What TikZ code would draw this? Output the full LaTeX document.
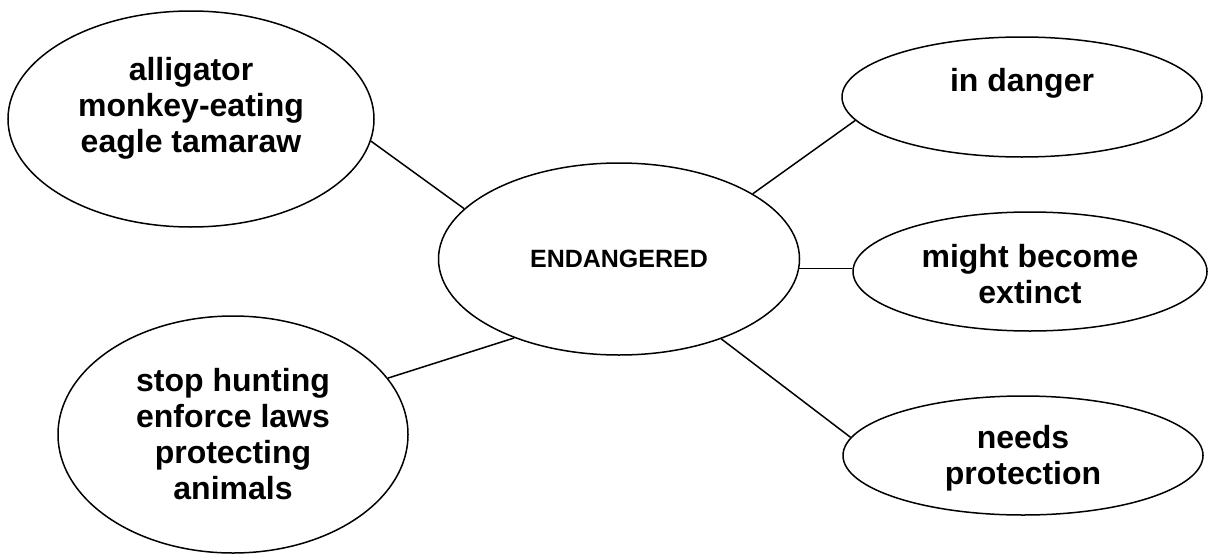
\documentclass[tikz,border=0pt]{standalone}
\usepackage{fontspec}
\setmainfont{Liberation Sans}
\usetikzlibrary{shapes.geometric}

\tikzset{
  bubble/.style={draw, ellipse, line width=1.5pt, inner sep=0pt},
  words/.style={align=center, font=\bfseries\fontsize{32}{36}\selectfont},
  link/.style={line width=1.5pt},
}

\begin{document}
\begin{tikzpicture}[x=1pt, y=-1pt]
    \useasboundingbox (0,0) rectangle (1209,554);

    % centre word
    \node[bubble, minimum width=361pt, minimum height=192pt,
          label={[words, font=\bfseries\fontsize{25}{30}\selectfont]center:ENDANGERED}] (endangered) at (619,259) {};

    % left side
    \node[bubble, minimum width=366pt, minimum height=216pt,
          label={[words, yshift=11pt]center:alligator\\monkey-eating\\eagle tamaraw}] (animals) at (191,119) {};
    \node[bubble, minimum width=350pt, minimum height=237pt,
          label={[words]center:stop hunting\\enforce laws\\protecting\\animals}] (action) at (233,434.5) {};

    % right side
    \node[bubble, minimum width=360pt, minimum height=120pt,
          label={[words, yshift=14pt]center:in danger}] (danger) at (1022,97) {};
    \node[bubble, minimum width=354pt, minimum height=119pt,
          label={[words, yshift=-3pt]center:might become\\extinct}] (extinct) at (1030,271.5) {};
    \node[bubble, minimum width=360pt, minimum height=119pt,
          label={[words, yshift=-3pt]center:needs\\protection}] (protection) at (1023,455.5) {};

    \draw[link] (endangered.162.5) -- (animals.-7.2);
    \draw[link] (endangered.217.3) -- (action.20);
    \draw[link] (endangered.26.2) -- (danger.188);
    \draw[link] (endangered.-3.4) -- (endangered.-3.4 -| extinct.west);
    \draw[link] (endangered.-38.6) -- (protection.174.4);
\end{tikzpicture}
\end{document}
